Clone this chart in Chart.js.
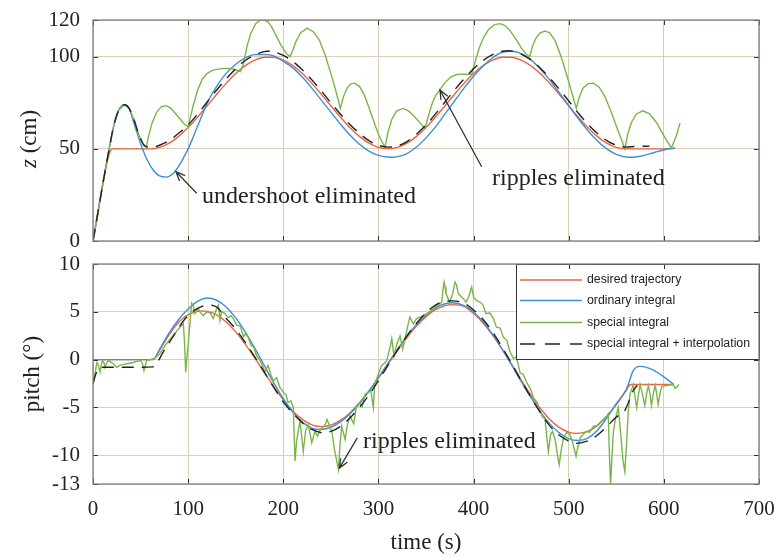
<!DOCTYPE html>
<html>
<head>
<meta charset="utf-8">
<script src="https://cdn.jsdelivr.net/npm/chart.js@4.4.1/dist/chart.umd.min.js"></script>
<style>
html, body { margin: 0; padding: 0; background: #fff; }
#wrap { position: relative; width: 779px; height: 557px; }
.box { position: absolute; left: 0; width: 779px; }
#topBox { top: 0; height: 250px; }
#botBox { top: 250px; height: 307px; }
</style>
</head>
<body>
<div id="wrap">
  <div class="box" id="topBox"><canvas id="zChart"></canvas></div>
  <div class="box" id="botBox"><canvas id="pitchChart"></canvas></div>
</div>
<script>
/////////////
// Data

var xTicks = [0, 100, 200, 300, 400, 500, 600, 700];
var zTicks = [0, 50, 100, 120];
var pitchTicks = [-13, -10, -5, 0, 5, 10];

// z (cm) - desired trajectory
var zDesiredT = [0, 20.5, 60, 70, 80, 90, 100, 110, 120, 130, 140, 150, 160, 170, 180, 190, 200, 210, 220, 230, 240, 250, 260, 270, 280, 290, 300, 310,
    320, 330, 340, 350, 360, 370, 380, 390, 400, 410, 420, 430, 440, 450, 460, 470, 480, 490, 500, 510, 520, 530, 540, 550, 560, 610];
var zDesired = [0, 50, 50, 50.8, 53.1, 56.8, 61.6, 67.3, 73.4, 79.7, 85.6, 90.9, 95.2, 98.2, 99.8, 99.8, 98.2, 95.2, 90.9, 85.6, 79.7, 73.4, 67.3, 61.6, 56.8, 53.1, 50.8, 50,
    50.8, 53.1, 56.8, 61.6, 67.3, 73.4, 79.7, 85.6, 90.9, 95.2, 98.2, 99.8, 99.8, 98.2, 95.2, 90.9, 85.6, 79.7, 73.4, 67.3, 61.6, 56.8, 53.1, 50.8, 50, 50];

// z - ordinary integral
var zOrdinaryT = [0, 5, 10, 17, 22, 27, 33, 38, 43, 50, 57, 64, 70, 77, 84, 90, 95, 100, 105, 110, 116, 120, 130, 140, 150, 160, 170, 180, 190, 200, 210, 220, 230, 240, 250, 260, 270, 280, 290, 300, 310, 315,
    320, 330, 340, 350, 360, 370, 380, 390, 400, 410, 420, 430, 440, 450, 460, 470, 480, 490, 500, 510, 520, 530, 540, 550, 560, 567, 575, 585, 595, 605, 612];
var zOrdinary = [0, 15, 30, 50, 63, 71, 74, 72, 64, 53, 44, 38, 35.3, 34.7, 36.5, 40.5, 45, 50, 56, 62.5, 70, 75, 84, 91, 96, 99.5, 101.2, 101.3, 100.5, 97.5, 94, 89, 83, 76.5, 70, 63.5, 57.5, 52.5, 48.8, 46.5, 45.6, 45.5,
    45.8, 47.5, 51, 56, 62, 69, 76, 83, 89.5, 95, 99.5, 102.5, 103, 101.8, 98.5, 93.5, 87.5, 80.5, 73.5, 66.5, 60, 54.5, 50, 47, 45.6, 45.5, 46, 47.3, 48.8, 50.1, 50.6];

// z - special integral
var zSpecialT = [0, 5, 10, 17, 22, 27, 33, 38, 43, 48, 53, 56, 58, 62, 67, 72, 77, 82, 87, 92, 96, 100, 105, 110, 115, 120, 126, 135, 144, 150, 155, 158, 162, 166, 171, 176, 180, 184, 188, 193, 198, 203, 207,
    210, 213, 218, 225, 232, 238, 244, 250, 255, 260, 263, 267, 271, 275, 280, 285, 290, 295, 300, 304, 307, 310, 314, 319, 326, 332, 338, 344, 349, 352, 356, 360, 365, 370, 376, 382, 389, 395, 398,
    402, 406, 411, 416, 422, 428, 433, 438, 444, 450, 455, 459, 462, 466, 470, 475, 480, 486, 492, 498, 503, 508, 511, 515, 520, 526, 532, 538, 544, 549, 554, 559, 562, 566, 571, 578, 585, 592, 598, 603, 608, 613, 617];
var zSpecial = [0, 15, 30, 50, 63, 71, 74, 72, 66, 58, 52, 51, 56, 64, 70, 73, 73.5, 72, 69, 66, 63.5, 62, 73, 82, 88, 91, 92.8, 93.6, 93.7, 93, 92, 96, 106, 113, 118, 120, 120, 119, 116, 111, 106, 102, 100,
    103.5, 108, 113, 115.6, 113.5, 109, 101, 91, 82, 72, 78, 83, 85.3, 85.7, 84, 79.5, 72.5, 65, 58, 53.5, 51, 59, 66, 70.5, 72, 70.5, 67.5, 64, 61, 67, 74, 79, 82.5, 86, 89, 90.4, 90.6, 90.5, 90.8,
    98, 105, 111, 115, 117.5, 118, 117, 114.5, 110, 105, 101.5, 100, 106, 110.5, 113, 114, 113, 108.5, 100, 90, 81, 72, 78, 83, 85.3, 85.7, 83.5, 78.5, 71, 64, 57, 50, 58, 64.5, 69, 70.7, 69, 64.5, 59, 54.5, 50.5, 57, 64];

// z - special integral + interpolation
var zInterpT = [0, 5, 10, 17, 22, 27, 33, 38, 43, 48, 53, 58, 65, 70, 80, 90, 100, 110, 120, 130, 140, 150, 160, 170, 180, 186, 190, 200, 210, 220, 230, 240, 250, 260, 270, 280, 290, 300, 310,
    320, 330, 340, 350, 360, 370, 380, 390, 400, 410, 420, 430, 437, 445, 450, 460, 470, 480, 490, 500, 510, 520, 530, 540, 550, 560, 570, 585];
var zInterp = [0, 15, 30, 50, 63, 71, 74, 72, 66, 58, 52.5, 51, 51.2, 52, 54.5, 58.5, 63, 69, 75.5, 82, 88, 93.5, 98, 101, 102.8, 103.2, 102.8, 100.8, 97.5, 93, 87.5, 81.5, 75, 69, 63.3, 58.5, 54.5, 52, 51,
    51.6, 54, 58, 63, 69, 75.5, 82, 88, 93.5, 98, 101.2, 103, 103.3, 102.5, 101.5, 98.5, 94, 88.5, 82.5, 76, 69.5, 63.5, 58.5, 54.5, 52, 51, 51.3, 51.5];

// pitch (deg) - desired trajectory
var pitchDesiredT = [0, 63, 70, 80, 90, 100, 110, 115, 120, 130, 140, 150, 160, 170, 180, 190, 200, 210, 220, 230, 240, 250, 260, 270, 280, 290, 300, 310, 320, 330, 340, 350, 360, 370, 378,
    390, 400, 410, 420, 430, 440, 450, 460, 470, 480, 490, 500, 508, 520, 530, 540, 550, 560, 565, 610];
var pitchDesired = [0, 0, 1.0, 2.6, 3.9, 4.7, 5.05, 5.1, 5.05, 4.68, 3.94, 2.9, 1.63, 0.18, -1.33, -2.82, -4.19, -5.36, -6.25, -6.81, -7.0, -6.84, -6.35, -5.57, -4.53, -3.3, -1.92, -0.48, 0.95, 2.31, 3.51, 4.5, 5.22, 5.65, 5.75,
    5.56, 4.82, 3.84, 2.57, 1.1, -0.49, -2.11, -3.67, -5.07, -6.22, -7.08, -7.58, -7.71, -7.5, -6.9, -5.9, -4.7, -3.3, -2.6, -2.6];

// pitch - ordinary integral
var pitchOrdinaryT = [0, 63, 70, 80, 90, 100, 110, 120, 130, 140, 150, 160, 170, 180, 190, 200, 210, 220, 230, 238, 250, 260, 270, 280, 290, 300, 310, 320, 330, 340, 350, 360, 370, 378,
    390, 400, 410, 420, 430, 440, 450, 460, 470, 480, 490, 500, 510, 520, 530, 540, 550, 560, 563, 567, 571, 575, 580, 590, 600, 610];
var pitchOrdinary = [0, 0, 1.1, 2.8, 4.2, 5.3, 6.1, 6.45, 6.21, 5.5, 4.37, 2.91, 1.2, -0.61, -2.42, -4.08, -5.49, -6.53, -7.15, -7.31, -7.07, -6.51, -5.67, -4.58, -3.28, -1.87, -0.38, 1.08, 2.46, 3.68, 4.68, 5.42, 5.84, 5.95,
    5.65, 4.99, 3.96, 2.64, 1.1, -0.56, -2.28, -3.92, -5.43, -6.69, -7.65, -8.25, -8.45, -8.2, -7.4, -6.1, -4.6, -3.2, -2.5, -1.3, -0.8, -0.7, -0.75, -1.15, -1.8, -2.55];

// pitch - special integral
var pitchSpecialT = [0, 2, 4, 5.5, 7.4, 9, 10, 11.5, 12.6, 14, 16, 18, 21, 23, 25, 28, 32, 37, 42, 47, 50, 52, 53.6, 55, 56.5, 60, 64, 70, 77, 84, 91.5, 95, 96.3, 97.4, 99, 101, 103.7,
    105.5, 107, 109, 110.7, 113, 116, 118.5, 121, 123.5, 126.5, 129, 131.7, 132.7, 133.5, 135, 138, 142, 145, 147.5, 151, 155, 158, 160, 163, 166, 169, 172, 175.5, 178, 180.8, 184, 187, 189.5, 193, 196.5,
    200, 203, 205, 208, 210.5, 212.3, 214, 217.6, 221, 223.5, 226.3, 229.9, 233.3, 236, 239, 242, 244, 246, 248.5, 251, 254, 258, 259.5, 261.4, 263, 265, 267, 270, 272, 274, 277, 280, 283, 286, 289, 292, 294.6, 296,
    300, 303.4, 306, 308.7, 312, 314, 316.4, 319, 322.7, 325.5, 329, 333, 336.7, 340, 345, 350.7, 355, 359.5, 366.5, 368, 369, 370, 371, 375, 378, 380.5, 382, 384, 389, 392, 395, 398,
    400, 403, 407, 410, 413, 417, 420.8, 424, 428, 431, 435, 438, 442, 445, 449, 452, 456, 460, 463, 467, 470, 472, 475, 478.6, 481, 483, 486, 488.5, 490, 492, 494.5, 498, 501, 504, 507.7, 510, 512, 516, 519, 522, 526, 530, 534.6, 538,
    541.6, 542.5, 544, 545.5, 547, 548.7, 552, 554, 557, 559, 561, 562.5, 564.4, 568, 569.5, 571.5, 573.5, 575, 577.5, 580, 582, 583.7, 585.5, 587, 589, 591, 592.5, 594, 596, 598, 603, 610, 612, 614, 616];
var pitchSpecial = [-2.4, -1.5, -0.3, -0.5, -1.3, -0.4, -0.1, -0.3, -0.8, -0.4, -0.1, -0.2, -0.4, -0.6, -0.8, -0.6, -0.5, -0.4, -0.3, -0.15, -0.1, -0.4, -1.15, -0.6, -0.1, 0, 0.1, 0.6, 1.65, 2.5, 3.4, 3.75, 1.5, -1.3, 0.5, 2.7, 5.9,
    5.6, 4.8, 5.1, 5.3, 4.9, 4.6, 4.9, 5.0, 4.8, 4.3, 5.1, 5.7, 5.0, 4.1, 5.0, 4.9, 4.4, 4.6, 4.3, 3.6, 3.5, 2.4, 2.7, 2.4, 1.5, 1.3, 0.4, -0.1, -0.6, -1.3, -0.6, -1.6, -2.2, -1.9, -2.9,
    -3.4, -3.7, -4.5, -4.3, -5.0, -10.6, -8.5, -6.4, -9.6, -7.4, -6.8, -8.7, -7.5, -8.0, -7.3, -7.05, -6.8, -6.25, -6.9, -7.5, -9.5, -11.5, -9.0, -6.95, -7.6, -8.35, -7.0, -5.9, -6.3, -6.7, -4.8, -4.5, -4.9, -3.6, -3.5, -3.2, -5.0, -2.6,
    -1.5, -0.6, -0.4, -0.1, 1.2, 2.2, 0.4, 1.5, 2.5, 1.1, 2.7, 4.45, 3.75, 4.3, 4.5, 4.8, 5.1, 5.5, 6.0, 7.5, 8.1, 7.6, 6.9, 6.0, 6.9, 8.1, 7.8, 6.9, 6.4, 6.0, 6.6, 7.6,
    6.5, 6.2, 6.0, 5.7, 4.8, 4.9, 4.3, 3.4, 3.3, 2.4, 2.0, 0.9, 0.1, 0.3, -1.4, -1.5, -2.4, -3.1, -4.0, -4.5, -5.4, -5.9, -6.2, -9.6, -7.8, -7.5, -8.5, -10.2, -11.0, -9.5, -8.2, -7.6, -7.8, -8.6, -10.1, -9.0, -8.2, -7.7, -7.5, -7.6, -6.95, -6.9, -6.4, -6.2,
    -5.7, -9.0, -13.1, -10.0, -7.5, -6.4, -5.0, -7.0, -10.5, -11.7, -8.5, -5.5, -3.6, -2.6, -3.8, -5.0, -3.5, -2.6, -3.6, -4.8, -3.5, -2.7, -3.6, -4.8, -3.5, -2.7, -3.6, -4.7, -3.5, -2.8, -2.7, -2.6, -3.0, -2.8, -2.6];

// pitch - special integral + interpolation
var pitchInterpT = [0, 3, 7, 25, 45, 63, 75, 86, 97, 109, 121, 130, 140, 150, 160, 170, 180, 190, 200, 210, 220, 230, 242, 250, 260, 270, 280, 290, 300, 310, 320, 330, 340, 350, 360, 370, 378,
    390, 400, 410, 420, 430, 440, 450, 460, 470, 480, 490, 500, 508, 520, 530, 540, 550, 559, 568, 572];
var pitchInterp = [-2.5, -1.5, -0.8, -0.8, -0.8, -0.75, 1.0, 2.7, 4.3, 5.3, 5.7, 5.5, 4.3, 3.2, 1.8, 0.3, -1.3, -2.9, -4.4, -5.6, -6.6, -7.3, -7.65, -7.5, -7.0, -6.1, -5.0, -3.7, -2.2, -0.6, 1.0, 2.5, 3.8, 4.9, 5.7, 6.1, 6.15,
    5.9, 5.2, 4.2, 2.9, 1.3, -0.4, -2.2, -3.9, -5.5, -6.9, -7.9, -8.5, -8.75, -8.5, -7.9, -7.0, -6.0, -5.3, -3.2, -2.7];

/////////////
// Styles
var serif = '"Liberation Serif", "Times New Roman", serif';
var textColor = '#222';
var gridColor = '#d9ceb6';
var colors = { desired: '#ea6440', ordinary: '#3f8fd6', special: '#7ab54a', interp: '#222' };
var interpDash = [12, 8];

function pts(ts, vs) {
    return ts.map((t, i) => ({ x: t, y: vs[i] }));
}

function series(label, ts, vs, color, order, extra) {
    return Object.assign({
        label: label,
        data: pts(ts, vs),
        borderColor: color,
        backgroundColor: color,
        borderWidth: 1.4,
        pointRadius: 0,
        fill: false,
        order: order,
        cubicInterpolationMode: 'monotone',
    }, extra || {});
}

// Frame round the plot area plus inward tick marks
var framePlugin = {
    id: 'frame',
    afterDraw(chart) {
        const { ctx, chartArea: a, scales: { x, y } } = chart;
        ctx.save();
        ctx.strokeStyle = '#333';
        ctx.lineWidth = 1;
        x.ticks.forEach(t => {
            const px = Math.round(x.getPixelForValue(t.value)) + 0.5;
            ctx.beginPath();
            ctx.moveTo(px, a.top); ctx.lineTo(px, a.top + 5);
            ctx.moveTo(px, a.bottom); ctx.lineTo(px, a.bottom - 5);
            ctx.stroke();
        });
        y.ticks.forEach(t => {
            const py = Math.round(y.getPixelForValue(t.value)) + 0.5;
            ctx.beginPath();
            ctx.moveTo(a.left, py); ctx.lineTo(a.left + 5, py);
            ctx.moveTo(a.right, py); ctx.lineTo(a.right - 5, py);
            ctx.stroke();
        });
        ctx.strokeStyle = '#808080';
        ctx.lineWidth = 1.3;
        ctx.strokeRect(a.left, a.top, a.width, a.height);
        ctx.restore();
    }
};

// Text notes with arrows, positioned in data units
var notesPlugin = {
    id: 'notes',
    afterDatasetsDraw(chart, args, opts) {
        const { ctx, scales: { x, y } } = chart;
        (opts.items || []).forEach(n => {
            ctx.save();
            ctx.font = '24px ' + serif;
            ctx.fillStyle = textColor;
            ctx.textBaseline = 'alphabetic';
            ctx.fillText(n.text, x.getPixelForValue(n.at[0]), y.getPixelForValue(n.at[1]));
            const x0 = x.getPixelForValue(n.from[0]), y0 = y.getPixelForValue(n.from[1]);
            const x1 = x.getPixelForValue(n.to[0]), y1 = y.getPixelForValue(n.to[1]);
            const ang = Math.atan2(y1 - y0, x1 - x0);
            ctx.strokeStyle = '#333';
            ctx.lineWidth = 1.3;
            ctx.beginPath();
            ctx.moveTo(x0, y0); ctx.lineTo(x1, y1);
            ctx.moveTo(x1 - 10 * Math.cos(ang - 0.4), y1 - 10 * Math.sin(ang - 0.4));
            ctx.lineTo(x1, y1);
            ctx.lineTo(x1 - 10 * Math.cos(ang + 0.4), y1 - 10 * Math.sin(ang + 0.4));
            ctx.stroke();
            ctx.restore();
        });
    }
};

// Boxed legend inside the plot, top right
var boxLegendPlugin = {
    id: 'boxLegend',
    afterDatasetsDraw(chart) {
        const { ctx, chartArea: a } = chart;
        const w = 243, h = 95, left = a.right - w, top = a.top;
        const rows = [16, 36.5, 58.5, 80];
        ctx.save();
        ctx.fillStyle = '#fff';
        ctx.fillRect(left, top, w, h);
        ctx.strokeStyle = '#333';
        ctx.lineWidth = 1;
        ctx.strokeRect(left + 0.5, top + 0.5, w, h);
        ctx.font = '12.3px "Liberation Sans", Arial, sans-serif';
        ctx.textBaseline = 'middle';
        chart.data.datasets.forEach((ds, i) => {
            const py = top + rows[i];
            ctx.strokeStyle = ds.borderColor;
            ctx.lineWidth = 1.4;
            ctx.setLineDash(ds.borderDash ? [15, 10] : []);
            ctx.beginPath();
            ctx.moveTo(left + 4, py); ctx.lineTo(left + 66, py);
            ctx.stroke();
            ctx.setLineDash([]);
            ctx.fillStyle = textColor;
            ctx.fillText(ds.label, left + 71, py);
        });
        ctx.restore();
    }
};

// y title with italic z
var zTitlePlugin = {
    id: 'zTitle',
    afterDraw(chart) {
        const ctx = chart.ctx;
        ctx.save();
        ctx.translate(30, 139);
        ctx.rotate(-Math.PI / 2);
        ctx.fillStyle = textColor;
        ctx.textBaseline = 'middle';
        ctx.font = 'italic 23px ' + serif;
        const wz = ctx.measureText('z').width;
        ctx.font = '23px ' + serif;
        const wr = ctx.measureText(' (cm)').width;
        let sx = -(wz + wr) / 2;
        ctx.font = 'italic 23px ' + serif;
        ctx.fillText('z', sx, 0);
        ctx.font = '23px ' + serif;
        ctx.fillText(' (cm)', sx + wz, 0);
        ctx.restore();
    }
};

function xScale(showLabels, height) {
    return {
        type: 'linear',
        min: 0,
        max: 700,
        afterBuildTicks: s => { s.ticks = xTicks.map(v => ({ value: v })); },
        afterFit: s => { s.height = height; s.paddingLeft = 0; s.paddingRight = 0; },
        grid: { color: gridColor, lineWidth: 1, drawTicks: false },
        border: { display: false },
        ticks: { display: showLabels, padding: 13, maxRotation: 0, color: textColor, font: { family: serif, size: 21 } },
        title: showLabels ? { display: true, text: 'time (s)', color: textColor, font: { family: serif, size: 23 }, padding: { top: 0, bottom: 0 } } : { display: false },
    };
}

function yScale(min, max, ticks, title) {
    return {
        min: min,
        max: max,
        afterBuildTicks: s => { s.ticks = ticks.map(v => ({ value: v })); },
        // keep the plot area where the layout padding puts it
        afterFit: s => { s.width = 93; s.paddingTop = 0; s.paddingBottom = 0; },
        grid: { color: gridColor, lineWidth: 1, drawTicks: false },
        border: { display: false },
        ticks: { padding: 13, color: textColor, font: { family: serif, size: 21 } },
        title: title ? { display: true, text: title, color: textColor, font: { family: serif, size: 23 }, padding: { top: 19, bottom: 0 } } : { display: false },
    };
}

var commonPlugins = { legend: { display: false }, tooltip: { enabled: false } };

new Chart(document.getElementById('zChart'), {
    type: 'line',
    data: {
        datasets: [
            series('desired trajectory', zDesiredT, zDesired, colors.desired, 4),
            series('ordinary integral', zOrdinaryT, zOrdinary, colors.ordinary, 3),
            series('special integral', zSpecialT, zSpecial, colors.special, 2, { cubicInterpolationMode: 'default', tension: 0 }),
            series('special integral + interpolation', zInterpT, zInterp, colors.interp, 1, { borderDash: interpDash }),
        ],
    },
    options: {
        responsive: true,
        maintainAspectRatio: false,
        animation: false,
        layout: { padding: { top: 20, right: 20, left: 0, bottom: 0 } },
        scales: {
            x: xScale(false, 9),
            y: yScale(0, 120, zTicks, null),
        },
        plugins: Object.assign({
            notes: {
                items: [
                    { text: 'undershoot eliminated', at: [114.6, 20.6], from: [109, 25.9], to: [87.2, 37.6] },
                    { text: 'ripples eliminated', at: [419.4, 30.4], from: [408.5, 40.3], to: [364.7, 82] },
                ],
            },
        }, commonPlugins),
    },
    plugins: [notesPlugin, framePlugin, zTitlePlugin],
});

new Chart(document.getElementById('pitchChart'), {
    type: 'line',
    data: {
        datasets: [
            series('desired trajectory', pitchDesiredT, pitchDesired, colors.desired, 4),
            series('ordinary integral', pitchOrdinaryT, pitchOrdinary, colors.ordinary, 3),
            series('special integral', pitchSpecialT, pitchSpecial, colors.special, 2, { cubicInterpolationMode: 'default', tension: 0 }),
            series('special integral + interpolation', pitchInterpT, pitchInterp, colors.interp, 1, { borderDash: interpDash }),
        ],
    },
    options: {
        responsive: true,
        maintainAspectRatio: false,
        animation: false,
        layout: { padding: { top: 14, right: 20, left: 0, bottom: 0 } },
        scales: {
            x: xScale(true, 73),
            y: yScale(-13, 10, pitchTicks, 'pitch (°)'),
        },
        plugins: Object.assign({
            notes: {
                items: [
                    { text: 'ripples eliminated', at: [283.8, -9.23], from: [277.8, -8.18], to: [258.9, -11.34] },
                ],
            },
        }, commonPlugins),
    },
    plugins: [notesPlugin, boxLegendPlugin, framePlugin],
});
</script>
</body>
</html>
